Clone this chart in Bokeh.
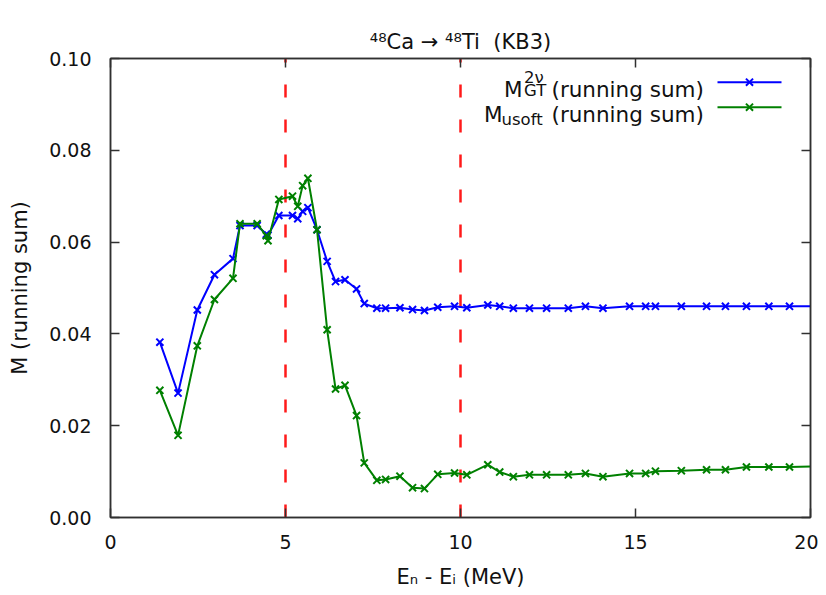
from bokeh.plotting import figure
from bokeh.models import Range1d, LinearAxis, FixedTicker, PrintfTickFormatter, Label, Title
from bokeh.embed import file_html
from bokeh.resources import INLINE

# ---------------- data ----------------
energy = [1.41, 1.93, 2.48, 2.97, 3.50, 3.70, 4.19, 4.45, 4.50, 4.81,
          5.20, 5.35, 5.49, 5.64, 5.90, 6.19, 6.43, 6.70, 7.03, 7.25,
          7.61, 7.86, 8.27, 8.63, 8.97, 9.35, 9.83, 10.18, 10.78, 11.12,
          11.51, 11.97, 12.46, 13.08, 13.57, 14.07, 14.83, 15.29, 15.57, 16.31,
          17.03, 17.57, 18.17, 18.81, 19.40, 20.30]

m_gt_2nu = [0.0382, 0.0271, 0.0452, 0.0529, 0.0564, 0.0636, 0.0636, 0.0617, 0.0615, 0.0658,
            0.0658, 0.0651, 0.0667, 0.0675, 0.0627, 0.0558, 0.0514, 0.0518, 0.0498, 0.0466,
            0.0456, 0.0456, 0.0457, 0.0453, 0.0451, 0.0458, 0.0460, 0.0457, 0.0463, 0.0460,
            0.0456, 0.0456, 0.0456, 0.0456, 0.0460, 0.0456, 0.0460, 0.0460, 0.0460, 0.0460,
            0.0460, 0.0460, 0.0460, 0.0460, 0.0460, 0.0460]

m_usoft = [0.0277, 0.0179, 0.0374, 0.0475, 0.0521, 0.0640, 0.0640, 0.0614, 0.0603, 0.0693,
           0.0700, 0.0678, 0.0723, 0.0739, 0.0627, 0.0409, 0.0280, 0.0288, 0.0222, 0.0119,
           0.0081, 0.0083, 0.0090, 0.0065, 0.0063, 0.0094, 0.0097, 0.0093, 0.0115, 0.0099,
           0.0089, 0.0093, 0.0093, 0.0093, 0.0096, 0.0089, 0.0096, 0.0096, 0.0101, 0.0102,
           0.0104, 0.0104, 0.0110, 0.0110, 0.0110, 0.0112]

vline_energies = [5, 10]
x_ticks = [0, 5, 10, 15, 20]
y_ticks = [0.00, 0.02, 0.04, 0.06, 0.08, 0.10]
x_limits = (0, 20)
y_limits = (0.0, 0.10)

title_text = "\u2074\u2078Ca \u2192 \u2074\u2078Ti\u00a0\u00a0(KB3)"
x_label = "E\u2099 - E\u1d62 (MeV)"
y_label = "M (running sum)"

# ---------------- styling / layout ----------------
FONT = "DejaVu Sans"
TICK_FS = "19px"
FS = "21px"
LEG_FS = "21.5px"
SUB_FS = "16.5px"
BLUE = "#0000ff"
GREEN = "#008000"
RED = "#ff1a1a"
BORDER = "#303030"
TXT = "#111111"

W, H = 818, 595
BL, BR, BT, BB = 110, 8, 58, 78

p = figure(width=W, height=H,
           x_range=Range1d(*x_limits), y_range=Range1d(*y_limits),
           output_backend="svg", toolbar_location=None,
           min_border_left=BL, min_border_right=BR,
           min_border_top=BT, min_border_bottom=BB,
           x_axis_label=x_label, y_axis_label=y_label)

p.xgrid.visible = False
p.ygrid.visible = False
p.outline_line_color = BORDER
p.outline_line_width = 1.5
p.background_fill_color = "white"
p.border_fill_color = "white"

for ax in p.xaxis + p.yaxis:
    ax.axis_line_color = BORDER
    ax.axis_line_width = 1.5
    ax.major_tick_line_color = BORDER
    ax.major_tick_line_width = 1.5
    ax.major_tick_in = 9
    ax.major_tick_out = 0
    ax.minor_tick_line_color = None
    ax.major_label_text_font = FONT
    ax.major_label_text_font_size = TICK_FS
    ax.major_label_text_color = TXT
    ax.axis_label_text_font = FONT
    ax.axis_label_text_font_size = FS
    ax.axis_label_text_font_style = "normal"
    ax.axis_label_text_color = TXT

p.xaxis.ticker = FixedTicker(ticks=x_ticks)
p.yaxis.ticker = FixedTicker(ticks=y_ticks)
p.yaxis.formatter = PrintfTickFormatter(format="%.2f")
p.xaxis.major_label_standoff = 17
p.xaxis.axis_label_standoff = 13
p.yaxis.major_label_standoff = 19
p.yaxis.axis_label_standoff = 14

# mirrored axes (top / right) with inward ticks, no labels
for loc, ticks in (("right", y_ticks), ("above", x_ticks)):
    ax = LinearAxis(ticker=FixedTicker(ticks=ticks))
    ax.axis_line_color = BORDER
    ax.axis_line_width = 1.5
    ax.major_tick_line_color = BORDER
    ax.major_tick_line_width = 1.5
    ax.major_tick_in = 9
    ax.major_tick_out = 0
    ax.minor_tick_line_color = None
    ax.major_label_text_font_size = "0px"
    ax.major_label_standoff = 0
    ax.major_label_text_color = None
    p.add_layout(ax, loc)

# invisible spacer between the frame and the title, then the title itself
p.add_layout(Title(text="\u00a0", text_font=FONT, text_font_size="14px",
                   text_alpha=0.0, standoff=0), "above")
p.add_layout(Title(text=title_text, align="center", text_font=FONT,
                   text_font_size=FS, text_font_style="normal",
                   text_color=TXT, standoff=10), "above")

# vertical dashed reference lines
p.segment(x0=vline_energies, y0=[y_limits[0]] * len(vline_energies),
          x1=vline_energies, y1=[y_limits[1]] * len(vline_energies),
          line_color=RED, line_width=2.5, line_dash="13 22")

# data series
p.line(energy, m_gt_2nu, line_color=BLUE, line_width=2)
p.scatter(energy, m_gt_2nu, marker="x", size=10, line_color=BLUE, line_width=2)
p.line(energy, m_usoft, line_color=GREEN, line_width=2)
p.scatter(energy, m_usoft, marker="x", size=10, line_color=GREEN, line_width=2)

# ---------------- legend (gnuplot style: text left, sample right) ----------------
FX0, FY0 = BL, BT
FW, FH = W - BL - BR, H - BT - BB


def dx(px):
    return x_limits[0] + (px - FX0) / FW * (x_limits[1] - x_limits[0])


def dy(py):
    return y_limits[1] - (py - FY0) / FH * (y_limits[1] - y_limits[0])


def lab(px, py, text, size):
    p.add_layout(Label(x=dx(px), y=dy(py), text=text, text_font=FONT,
                       text_font_size=size, text_color=TXT,
                       text_align="left", text_baseline="alphabetic"))


# row 1: M^{2nu}_{GT} (running sum)
lab(503.5, 88.5, "M", LEG_FS)
lab(523.5, 90, "GT", SUB_FS)
lab(523.5, 77, "2\u03bd", SUB_FS)
lab(551, 88.5, "(running sum)", LEG_FS)
# row 2: M_{usoft} (running sum)
lab(483.5, 113.5, "M", LEG_FS)
lab(501, 118.5, "usoft", SUB_FS)
lab(551, 113.5, "(running sum)", LEG_FS)

for py, col in ((81.7, BLUE), (106.7, GREEN)):
    p.line([dx(717), dx(781)], [dy(py), dy(py)], line_color=col, line_width=2)
    p.scatter([dx(749)], [dy(py)], marker="x", size=10, line_color=col, line_width=2)

open("out.html", "w").write(file_html(p, INLINE))
